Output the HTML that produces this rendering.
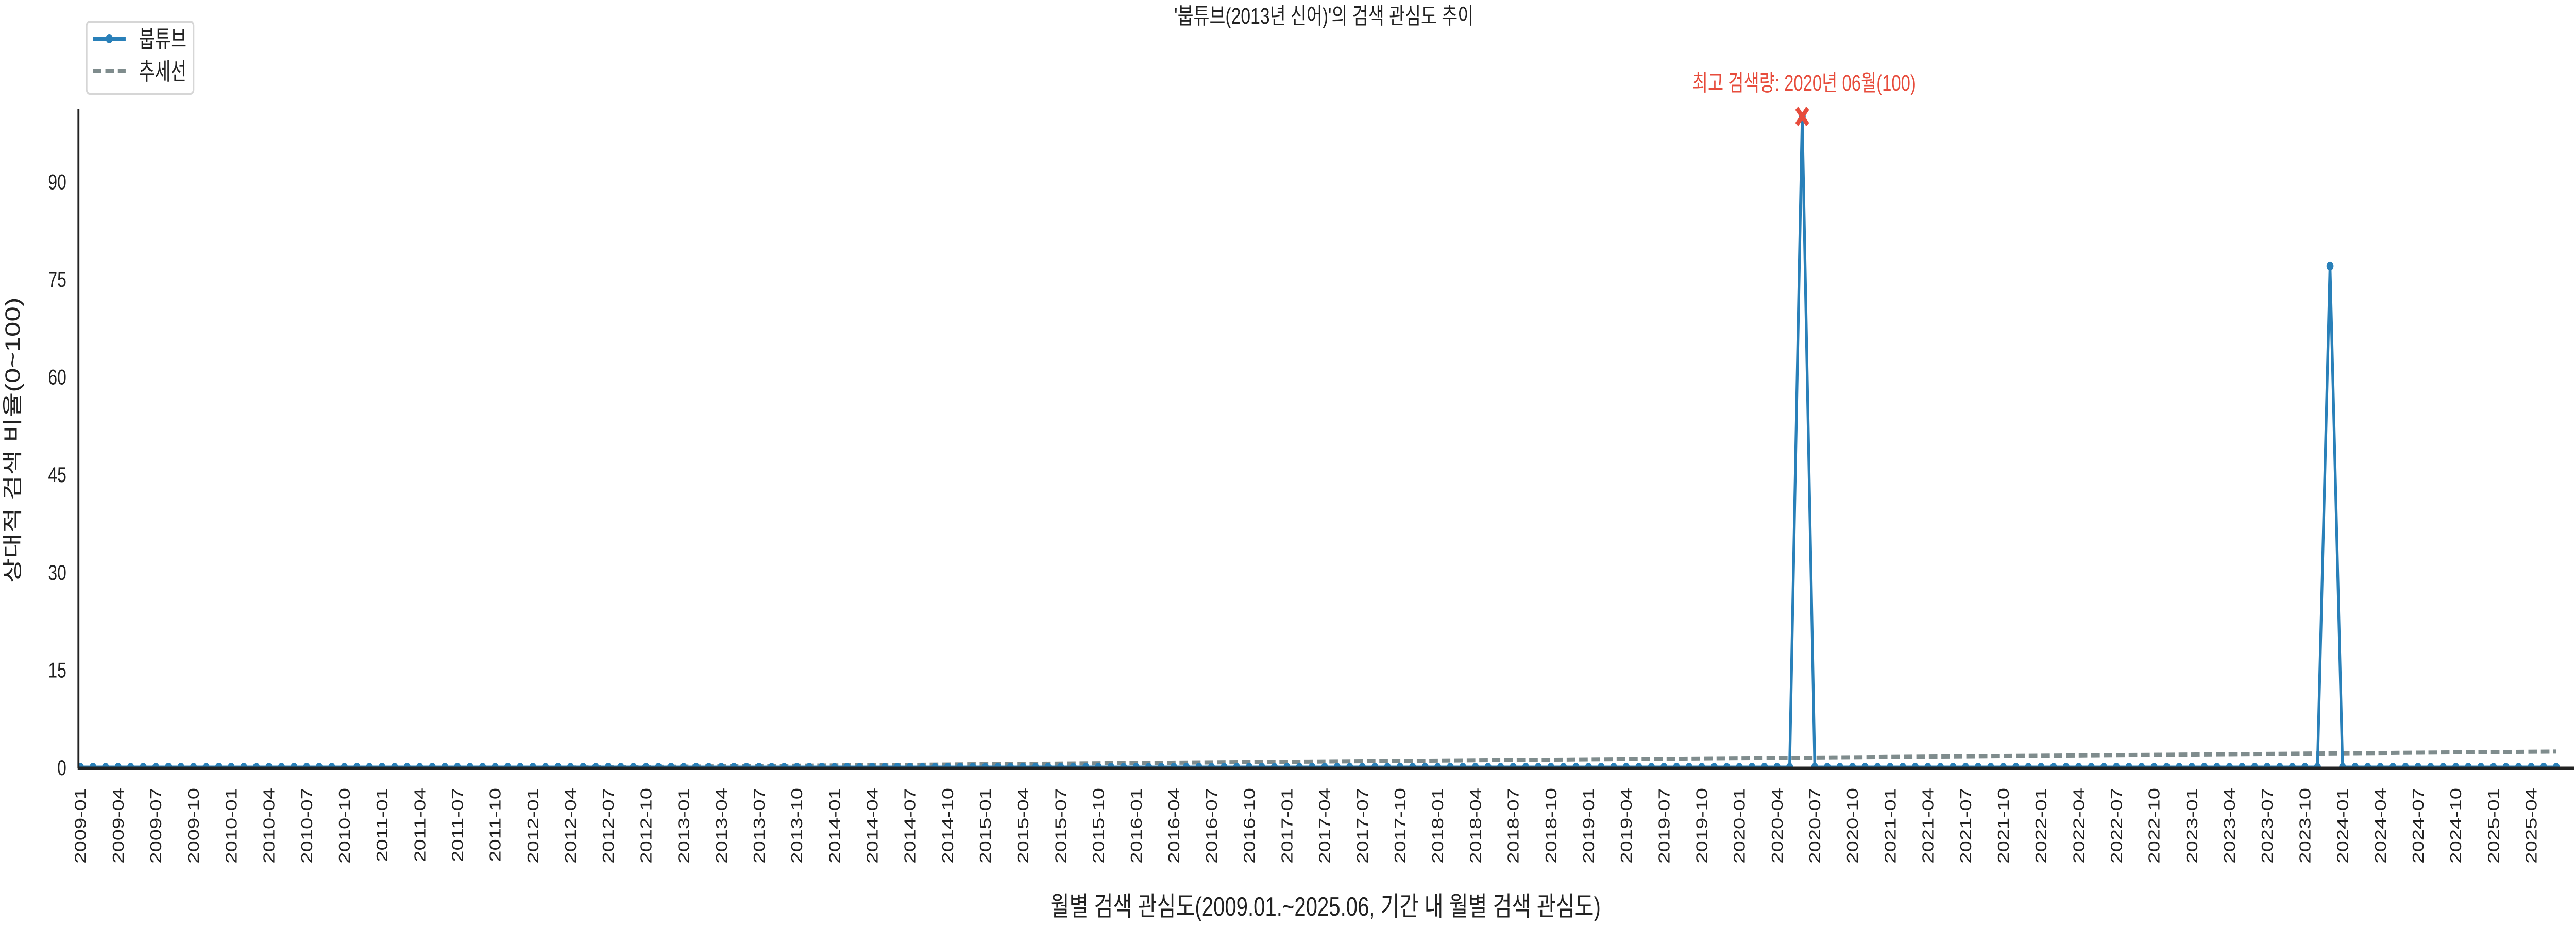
<!DOCTYPE html>
<html><head><meta charset="utf-8">
<style>
html,body{margin:0;padding:0;background:#fff;width:100%;height:100%;overflow:hidden;}
svg{display:block;width:100vw;height:100vh;}
text{font-family:"Liberation Sans","Noto Sans CJK KR",sans-serif;}
</style></head>
<body>
<svg id="chart" viewBox="0 0 6600 1800" preserveAspectRatio="none" xmlns="http://www.w3.org/2000/svg">
<defs><clipPath id="plotclip"><rect x="200" y="150" width="6400" height="1340"/></clipPath></defs>
<text x="3392" y="46" font-size="44" fill="#222" text-anchor="middle" textLength="767" lengthAdjust="spacingAndGlyphs">'붑튜브(2013년 신어)'의 검색 관심도 추이</text>
<g id="plot"></g>
<line x1="201" y1="212" x2="201" y2="1492" stroke="#222" stroke-width="5"/>
<line x1="199" y1="1492" x2="6596" y2="1492" stroke="#222" stroke-width="7"/>
<g id="yticks"></g>
<g id="xticks"></g>
<text transform="translate(50,855) rotate(-90)" font-size="52" fill="#222" text-anchor="middle" textLength="555" lengthAdjust="spacingAndGlyphs">상대적 검색 비율(0~100)</text>
<text x="3396" y="1778" font-size="52" fill="#222" text-anchor="middle" textLength="1410" lengthAdjust="spacingAndGlyphs">월별 검색 관심도(2009.01.~2025.06, 기간 내 월별 검색 관심도)</text>
<g>
<rect x="222" y="42" width="274" height="140" rx="8" fill="#fff" stroke="#d6d6d6" stroke-width="4"/>
<g>
<line x1="238" y1="75" x2="322" y2="75" stroke="#2980b9" stroke-width="8"/>
<circle cx="280" cy="75" r="9" fill="#2980b9"/>
<text x="356" y="92" font-size="46" fill="#222" textLength="122" lengthAdjust="spacingAndGlyphs">붑튜브</text>
</g>
<g>
<line x1="238" y1="138" x2="322" y2="138" stroke="#7f8c8d" stroke-width="8" stroke-dasharray="22,10"/>
<text x="356" y="155" font-size="46" fill="#222" textLength="122" lengthAdjust="spacingAndGlyphs">추세선</text>
</g>
</g>
</svg>
<script>
const startYear = 2009, startMonth = 1;
const monthCount = 198;
const peakIndices = [137, 179];
const peakValues = [100, 77];
const yTicks = [0, 15, 30, 45, 60, 75, 90];
const annotationLabel = "최고 검색량: 2020년 06월(100)";

const NS = "http://www.w3.org/2000/svg";
const values = new Array(monthCount).fill(0);
peakIndices.forEach((idx, k) => { values[idx] = peakValues[k]; });
const labels = [];
for (let i = 0; i < monthCount; i++) {
  const m = startMonth - 1 + i;
  const y = startYear + Math.floor(m / 12);
  const mm = (m % 12) + 1;
  labels.push(y + "-" + (mm < 10 ? "0" + mm : mm));
}
const X0 = 206, DX = 32.2, Y0 = 1490, DY = 12.64;
const xs = i => X0 + i * DX;
const ys = v => Y0 - v * DY;

function mk(tag, attrs, parent) {
  const e = document.createElementNS(NS, tag);
  for (const k in attrs) e.setAttribute(k, attrs[k]);
  parent.appendChild(e);
  return e;
}
const plot = document.getElementById("plot");
const clipG = mk("g", {"clip-path": "url(#plotclip)"}, plot);

const n = values.length;
let mx = (n - 1) / 2, my = values.reduce((a, b) => a + b, 0) / n, sxy = 0, sxx = 0;
values.forEach((v, i) => { sxy += (i - mx) * (v - my); sxx += (i - mx) * (i - mx); });
const slope = sxy / sxx, icpt = my - slope * mx;
const trend = mk("line", {x1: xs(0), y1: ys(icpt), x2: xs(n - 1), y2: ys(icpt + slope * (n - 1)), stroke: "#7f8c8d", "stroke-width": 8, "stroke-dasharray": "22,10"}, clipG);



const pts = values.map((v, i) => xs(i).toFixed(1) + "," + ys(v).toFixed(1)).join(" ");
const line = mk("polyline", {points: pts, fill: "none", stroke: "#2980b9", "stroke-width": 7, "stroke-linejoin": "round"}, clipG);


values.forEach((v, i) => {
  const c = mk("circle", {cx: xs(i), cy: ys(v), r: 9, fill: "#2980b9"}, clipG);
  
  
});

let maxI = 0;
values.forEach((v, i) => { if (v > values[maxI]) maxI = i; });
const mxp = xs(maxI), myp = ys(values[maxI]);
const mark = mk("path", {d: `M${mxp-14},${myp-16} L${mxp+14},${myp+16} M${mxp+14},${myp-16} L${mxp-14},${myp+16}`, stroke: "#e74c3c", "stroke-width": 10, fill: "none"}, plot);


const ann = mk("text", {x: mxp + 5, y: 176, "font-size": 44, fill: "#e74c3c", "text-anchor": "middle", textLength: 573, lengthAdjust: "spacingAndGlyphs"}, plot);
ann.textContent = annotationLabel;



const yt = document.getElementById("yticks");
yTicks.forEach(t => {
  const e = mk("text", {x: 170, y: ys(t) + 15, "font-size": 42, fill: "#222", "text-anchor": "end"}, yt);
  e.textContent = t;
  
  
});
const xt = document.getElementById("xticks");
for (let i = 0; i < monthCount; i += 3) {
  const x = xs(i);
  const e = mk("text", {transform: `translate(${x + 14},1530) rotate(-90)`, "font-size": 40, fill: "#222", "text-anchor": "end"}, xt);
  e.textContent = labels[i];
  
  
}
</script>
</body></html>
